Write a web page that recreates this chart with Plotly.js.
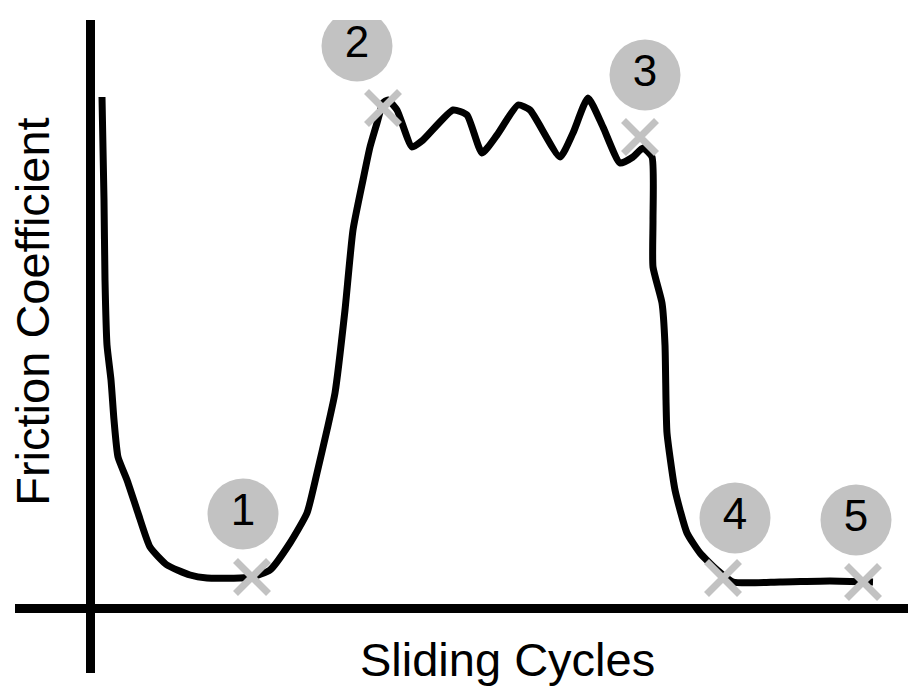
<!DOCTYPE html>
<html>
<head>
<meta charset="utf-8">
<script src="https://cdn.plot.ly/plotly-3.0.1.min.js"></script>
<style>html,body{margin:0;padding:0;background:#fff}#chart{width:908px;height:690px}</style>
</head>
<body>
<div id="chart"></div>
<script>
// Friction curve (arbitrary units: sliding cycles vs friction coefficient)
var cycles = [1.2, 1.4, 1.5, 1.7, 2.1, 2.4, 2.8, 3.7, 4.8, 6.0, 7.7, 10.0, 11.7, 15.0, 16.2, 18.0, 20.0, 21.7, 22.7, 23.7, 24.5, 25.5, 26.3, 27.3, 28.0, 28.7, 29.3, 29.8, 30.7, 32.2, 33.3, 36.3, 37.7, 39.2, 40.7, 42.8, 44.0, 47.0, 48.3, 49.8, 51.3, 53.0, 54.3, 55.3, 56.2, 56.3, 56.3, 57.2, 57.5, 57.6, 57.7, 58.5, 59.7, 61.0, 62.7, 64.3, 69.0, 74.0, 78.3];
var friction = [1.023, 0.817, 0.657, 0.527, 0.457, 0.377, 0.303, 0.257, 0.191, 0.123, 0.087, 0.067, 0.061, 0.061, 0.063, 0.077, 0.131, 0.191, 0.271, 0.357, 0.431, 0.597, 0.757, 0.857, 0.923, 0.971, 1.011, 1.017, 0.997, 0.923, 0.937, 0.997, 0.987, 0.911, 0.947, 1.007, 0.997, 0.903, 0.951, 1.021, 0.963, 0.891, 0.903, 0.921, 0.903, 0.777, 0.683, 0.611, 0.527, 0.417, 0.351, 0.237, 0.151, 0.111, 0.077, 0.053, 0.053, 0.055, 0.053];

// Marked stages (x markers)
var stageCycles = [16.2, 29.3, 55.0, 63.3, 77.3];
var stageFriction = [0.063, 1.001, 0.943, 0.061, 0.053];

// Numbered badges
var badgeLabels = ["1", "2", "3", "4", "5"];
var badgeCycles = [15.3, 26.7, 55.5, 64.5, 76.6];
var badgeFriction = [0.189, 1.125, 1.067, 0.181, 0.177];

var xTitle = "Sliding Cycles";
var yTitle = "Friction Coefficient";

var FONT = "Liberation Sans, Arial, sans-serif";
var GRAY = "#c2c2c2";

var traces = [
  {
    x: cycles, y: friction, type: "scatter", mode: "lines",
    line: {color: "#000", width: 7, shape: "spline", smoothing: 0.5},
    hoverinfo: "skip"
  },
  {
    x: stageCycles, y: stageFriction, type: "scatter", mode: "markers",
    marker: {symbol: "x-thin", size: 33, color: GRAY, line: {color: GRAY, width: 7}},
    hoverinfo: "skip"
  },
  {
    x: badgeCycles, y: badgeFriction, type: "scatter", mode: "markers+text",
    text: badgeLabels, textposition: "middle center",
    textfont: {family: FONT, size: 44, color: "#000"},
    marker: {symbol: "circle", size: 71, color: GRAY, line: {width: 0}},
    hoverinfo: "skip"
  }
];

var layout = {
  width: 908, height: 690,
  margin: {l: 15, r: 0, t: 20, b: 17, pad: 0},
  paper_bgcolor: "#fff", plot_bgcolor: "#fff",
  showlegend: false,
  xaxis: {
    range: [-7.5, 81.8], showgrid: false, showticklabels: false, ticks: "",
    zeroline: true, zerolinecolor: "#000", zerolinewidth: 9, showline: false, fixedrange: true
  },
  yaxis: {
    range: [-0.129, 1.177], showgrid: false, showticklabels: false, ticks: "",
    zeroline: true, zerolinecolor: "#000", zerolinewidth: 9, showline: false, fixedrange: true
  },
  annotations: [
    {text: xTitle, xref: "paper", yref: "paper", x: 0.551, y: 0.02,
     xanchor: "center", yanchor: "middle", showarrow: false,
     font: {family: FONT, size: 47, color: "#000"}},
    {text: yTitle, xref: "paper", yref: "paper", x: 0.02, y: 0.553, textangle: -90,
     xanchor: "center", yanchor: "middle", showarrow: false,
     font: {family: FONT, size: 47, color: "#000"}}
  ]
};

Plotly.newPlot("chart", traces, layout, {displayModeBar: false, staticPlot: true});
</script>
</body>
</html>
